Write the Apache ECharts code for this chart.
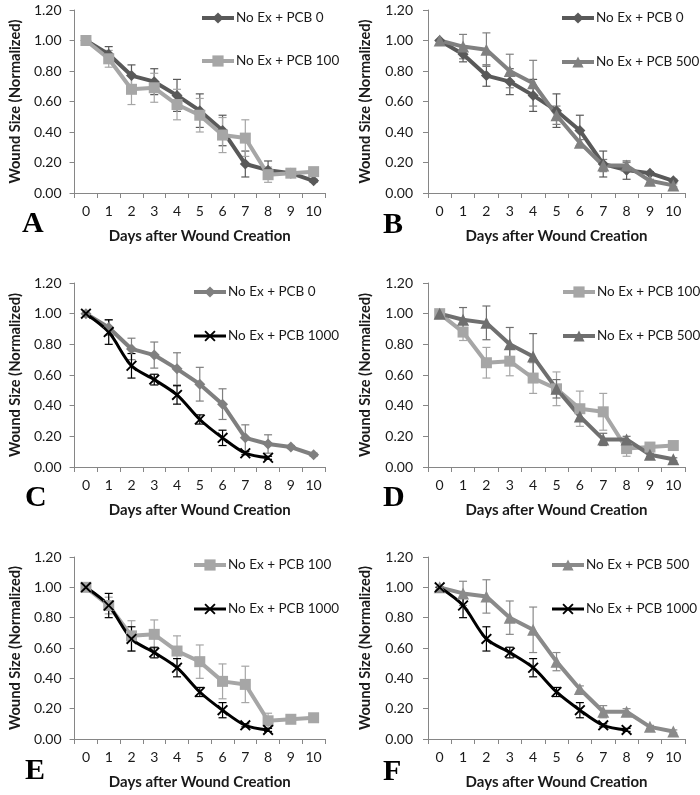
<!DOCTYPE html>
<html>
<head>
<meta charset="utf-8">
<script src="https://cdn.jsdelivr.net/npm/echarts@6/dist/echarts.min.js"></script>
<style>
html,body{margin:0;padding:0;background:#fff;overflow:hidden;}
#wrap{position:relative;width:700px;height:795px;overflow:hidden;}
.p{position:absolute;height:265px;}
</style>
</head>
<body>
<div id="wrap"></div>
<script>
// ---- data ----
const days = ['0','1','2','3','4','5','6','7','8','9','10'];
const yTicks = [0, 0.2, 0.4, 0.6, 0.8, 1.0, 1.2];

const pcb0Name = 'No Ex + PCB 0';
const pcb0 = [1.00, 0.91, 0.77, 0.73, 0.64, 0.54, 0.41, 0.19, 0.15, 0.13, 0.08];
const pcb0Err = [0, 0.05, 0.07, 0.085, 0.105, 0.11, 0.10, 0.085, 0.06, 0.01, 0.01];

const pcb100Name = 'No Ex + PCB 100';
const pcb100 = [1.00, 0.88, 0.68, 0.69, 0.58, 0.51, 0.38, 0.36, 0.12, 0.13, 0.14];
const pcb100Err = [0, 0.055, 0.10, 0.095, 0.10, 0.11, 0.115, 0.12, 0.05, 0.01, 0.01];

const pcb500Name = 'No Ex + PCB 500';
const pcb500 = [1.00, 0.96, 0.94, 0.80, 0.72, 0.51, 0.33, 0.18, 0.18, 0.08, 0.05];
const pcb500Err = [0, 0.08, 0.11, 0.11, 0.15, 0.06, 0.02, 0.04, 0.02, 0.01, 0.01];

const pcb1000Name = 'No Ex + PCB 1000';
const pcb1000 = [1.00, 0.88, 0.66, 0.57, 0.47, 0.31, 0.19, 0.09, 0.06];
const pcb1000Err = [0, 0.08, 0.08, 0.035, 0.06, 0.03, 0.05, 0.01, 0.01];

const panelLetters = ['A','B','C','D','E','F'];
const xAxisTitle = 'Days after Wound Creation';
const yAxisTitle = 'Wound Size (Normalized)';

// ---- styles ----
const FONT = 'Lato, "Open Sans", sans-serif';
const XPATH = 'path://M0,1.2 L1.2,0 L5,3.8 L8.8,0 L10,1.2 L6.2,5 L10,8.8 L8.8,10 L5,6.2 L1.2,10 L0,8.8 L3.8,5 Z';
const seriesDefs = {
  pcb0:    {name: pcb0Name, data: pcb0, err: pcb0Err, symbol: 'diamond', size: 11, width: 4, smooth: false},
  pcb100:  {name: pcb100Name, data: pcb100, err: pcb100Err, symbol: 'rect', size: 11, width: 4, smooth: false},
  pcb500:  {name: pcb500Name, data: pcb500, err: pcb500Err, symbol: 'triangle', size: 12, width: 4, smooth: false},
  pcb1000: {name: pcb1000Name, data: pcb1000, err: pcb1000Err, symbol: XPATH, size: 11, width: 3, smooth: 0.3}
};

const panels = [
  {left:0,   top:0,   w:350, grid:{left:65, top:10, width:260, height:183}, s:[['pcb0','#595959'],['pcb100','#a6a6a6']], lg:{left:200, top:11, gap:29}, lt:{x:22, y:224}, ylm:13, yng:46},
  {left:350, top:0,   w:400, grid:{left:77, top:10, width:258, height:183}, s:[['pcb0','#595959'],['pcb500','#808080']], lg:{left:210, top:11, gap:30}, lt:{x:33, y:225}, ylm:15, yng:55},
  {left:0,   top:265, w:350, grid:{left:65, top:18, width:260, height:184}, s:[['pcb0','#7f7f7f'],['pcb1000','#000000']], lg:{left:192, top:20, gap:30}, lt:{x:25, y:233}, ylm:13, yng:46},
  {left:350, top:265, w:400, grid:{left:77, top:18, width:258, height:184}, s:[['pcb100','#a6a6a6'],['pcb500','#6f6f6f']], lg:{left:211, top:20, gap:30}, lt:{x:33, y:233}, ylm:15, yng:55},
  {left:0,   top:530, w:350, grid:{left:65, top:27, width:260, height:184}, s:[['pcb100','#a6a6a6'],['pcb1000','#000000']], lg:{left:192, top:28, gap:30}, lt:{x:25, y:241}, ylm:13, yng:46},
  {left:350, top:530, w:400, grid:{left:77, top:27, width:258, height:184}, s:[['pcb500','#8a8a8a'],['pcb1000','#000000']], lg:{left:200, top:28, gap:30}, lt:{x:33, y:242}, ylm:15, yng:55}
];

function errSeries(def, color) {
  const d = def.data.map((v, i) => [i, v - def.err[i], v + def.err[i]]);
  return {
    type: 'custom',
    name: def.name + ' err',
    silent: true,
    z: 1,
    data: d,
    encode: {x: 0, y: [1, 2]},
    renderItem: function (params, api) {
      const lo = api.coord([api.value(0), api.value(1)]);
      const hi = api.coord([api.value(0), api.value(2)]);
      const w = 4;
      const st = {stroke: color, lineWidth: 1.2};
      return {type: 'group', children: [
        {type: 'line', shape: {x1: hi[0], y1: hi[1], x2: lo[0], y2: lo[1]}, style: st},
        {type: 'line', shape: {x1: hi[0] - w, y1: hi[1], x2: hi[0] + w, y2: hi[1]}, style: st},
        {type: 'line', shape: {x1: lo[0] - w, y1: lo[1], x2: lo[0] + w, y2: lo[1]}, style: st}
      ]};
    }
  };
}

const wrap = document.getElementById('wrap');
panels.forEach((p, idx) => {
  const div = document.createElement('div');
  div.className = 'p';
  div.style.left = p.left + 'px';
  div.style.top = p.top + 'px';
  div.style.width = p.w + 'px';
  wrap.appendChild(div);
  const chart = echarts.init(div, null, {renderer: 'canvas'});
  const series = [];
  const legendNames = [];
  p.s.forEach(([key, color]) => {
    series.push(errSeries(seriesDefs[key], color));
  });
  p.s.forEach(([key, color]) => {
    const def = seriesDefs[key];
    legendNames.push(def.name);
    series.push({
      type: 'line',
      name: def.name,
      data: def.data,
      smooth: def.smooth,
      symbol: def.symbol,
      symbolSize: def.size,
      showAllSymbol: true,
      z: 3,
      lineStyle: {color: color, width: def.width},
      itemStyle: {color: color},
      emphasis: {disabled: true}
    });
  });
  chart.setOption({
    animation: false,
    textStyle: {fontFamily: FONT},
    grid: p.grid,
    legend: {
      data: legendNames,
      orient: 'vertical',
      left: p.lg.left,
      top: p.lg.top,
      padding: 0,
      itemGap: p.lg.gap,
      itemWidth: 32,
      itemHeight: 14,
      selectedMode: false,
      lineStyle: {width: 'inherit'},
      textStyle: {fontSize: 13.5, lineHeight: 14, color: '#1a1a1a', fontFamily: FONT, padding: [0, 0, 0, -3]}
    },
    xAxis: {
      type: 'category',
      data: days,
      boundaryGap: true,
      name: xAxisTitle,
      nameLocation: 'middle',
      nameGap: 36,
      nameTextStyle: {fontSize: 15, fontWeight: 'bold', color: '#1a1a1a', fontFamily: FONT},
      axisLine: {lineStyle: {color: '#868686', width: 1}},
      axisTick: {show: true, length: 5, lineStyle: {color: '#868686'}},
      axisLabel: {fontSize: 14, color: '#1a1a1a', margin: 11, fontFamily: FONT, interval: 0},
      splitLine: {show: false}
    },
    yAxis: {
      type: 'value',
      min: yTicks[0],
      max: yTicks[yTicks.length - 1],
      interval: 0.2,
      name: yAxisTitle,
      nameLocation: 'middle',
      nameGap: p.yng,
      nameTextStyle: {fontSize: 14.7, fontWeight: 'bold', color: '#1a1a1a', fontFamily: FONT},
      axisLine: {show: true, lineStyle: {color: '#868686', width: 1}},
      axisTick: {show: true, length: 5, lineStyle: {color: '#868686'}},
      axisLabel: {fontSize: 14, color: '#1a1a1a', margin: p.ylm, fontFamily: FONT, formatter: v => v.toFixed(2)},
      splitLine: {show: false}
    },
    graphic: [{
      type: 'text',
      left: p.lt.x,
      top: p.lt.y - 15,
      style: {text: panelLetters[idx], font: 'bold 30px "Liberation Serif", "Times New Roman", serif', fill: '#000'}
    }],
    series: series
  });
});
</script>
</body>
</html>
